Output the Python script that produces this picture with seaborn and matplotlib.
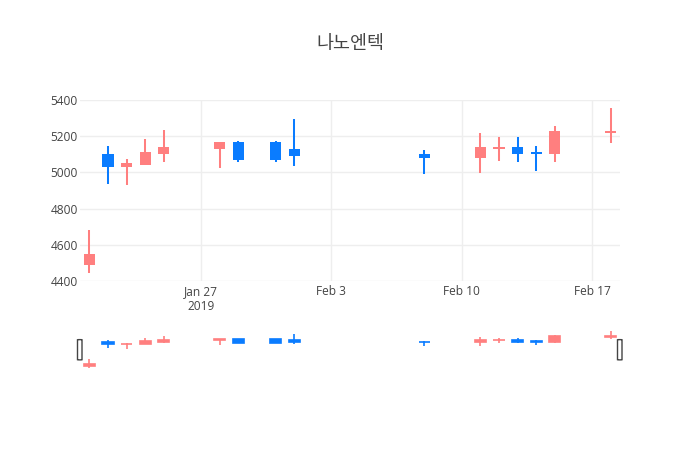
import pandas as pd
import matplotlib
matplotlib.use("Agg")
import matplotlib.pyplot as plt
from matplotlib.patches import FancyBboxPatch
import seaborn as sns

# daily prices (KRW)
dates = ["2019-01-21", "2019-01-22", "2019-01-23", "2019-01-24", "2019-01-25",
         "2019-01-28", "2019-01-29", "2019-01-31", "2019-02-01", "2019-02-08",
         "2019-02-11", "2019-02-12", "2019-02-13", "2019-02-14", "2019-02-15",
         "2019-02-18"]
open_ = [4490, 5100, 5030, 5040, 5100, 5130, 5170, 5170, 5130, 5100,
         5080, 5130, 5140, 5110, 5100, 5220]
high = [4680, 5145, 5075, 5185, 5235, 5170, 5175, 5175, 5295, 5125,
        5215, 5195, 5195, 5145, 5255, 5355]
low = [4445, 4935, 4930, 5040, 5060, 5025, 5060, 5060, 5035, 4990,
       4995, 5065, 5055, 5005, 5055, 5165]
close = [4550, 5030, 5050, 5110, 5140, 5170, 5070, 5070, 5090, 5080,
         5140, 5140, 5100, 5100, 5230, 5230]

title = "나노엔텍"
y_ticks = [4400, 4600, 4800, 5000, 5200, 5400]
x_ticks = ["2019-01-27", "2019-02-03", "2019-02-10", "2019-02-17"]
x_ticklabels = ["Jan 27\n2019", "Feb 3", "Feb 10", "Feb 17"]

UP = "#FF7F7F"
DOWN = "#0A7CFF"
GRID = "#EEEEEE"
TXT = "#444444"

df = pd.DataFrame({"Date": pd.to_datetime(dates), "Open": open_, "High": high,
                   "Low": low, "Close": close})
df["Color"] = [UP if c >= o else DOWN for o, c in zip(df["Open"], df["Close"])]
df["Bottom"] = df[["Open", "Close"]].min(axis=1)
df["Body"] = (df["Close"] - df["Open"]).abs().clip(lower=2)

sns.set_theme(style="white")
plt.rcParams["font.family"] = ["Open Sans", "Noto Sans CJK KR", "DejaVu Sans"]

fig = plt.figure(figsize=(7, 4.5), dpi=100)
ax = fig.add_axes([80 / 700, 169 / 450, 540 / 700, 181 / 450])
sl = fig.add_axes([80 / 700, 80 / 450, 540 / 700, 40.5 / 450])

xmin = pd.Timestamp("2019-01-20 12:00")
xmax = pd.Timestamp("2019-02-18 12:00")


def draw_candles(a, wick_lw, edge_lw):
    a.vlines(df["Date"], df["Low"], df["High"], colors=df["Color"], lw=wick_lw, zorder=2)
    a.bar(df["Date"], df["Body"], bottom=df["Bottom"], width=0.6,
          color=df["Color"], edgecolor=df["Color"], linewidth=edge_lw, zorder=3)
    a.set_xlim(xmin, xmax)
    a.set_ylim(4400, 5400)
    for s in a.spines.values():
        s.set_visible(False)


# main chart
draw_candles(ax, 1.45, 0)
ax.set_yticks(y_ticks)
ax.set_yticklabels([str(v) for v in y_ticks])
ax.set_xticks(pd.to_datetime(x_ticks))
ax.set_xticklabels(x_ticklabels)
ax.grid(True, color=GRID, lw=1)
ax.set_axisbelow(True)
ax.tick_params(axis="both", length=0, labelsize=8.6, colors=TXT)
ax.tick_params(axis="x", pad=3)
ax.tick_params(axis="y", pad=1.5)
for lab in ax.get_xticklabels():
    lab.set_linespacing(1.15)

# range slider
draw_candles(sl, 1.2, 1.2)
sl.set_xticks([])
sl.set_yticks([])
sl.set_facecolor("white")
for xf in (0, 1):
    sl.add_patch(FancyBboxPatch((xf - 2.5 / 540, 0.25), 4.5 / 540, 0.5,
                                boxstyle="round,pad=0,rounding_size=0.004",
                                transform=sl.transAxes, clip_on=False,
                                facecolor="white", edgecolor="#444444",
                                lw=1.0, zorder=5))

fig.text(0.5, 1 - 44 / 450, title, ha="center", va="center", fontsize=13.3,
         color=TXT, family=["Noto Sans CJK KR", "DejaVu Sans"])

fig.savefig("out.png", dpi=100, facecolor="white")
